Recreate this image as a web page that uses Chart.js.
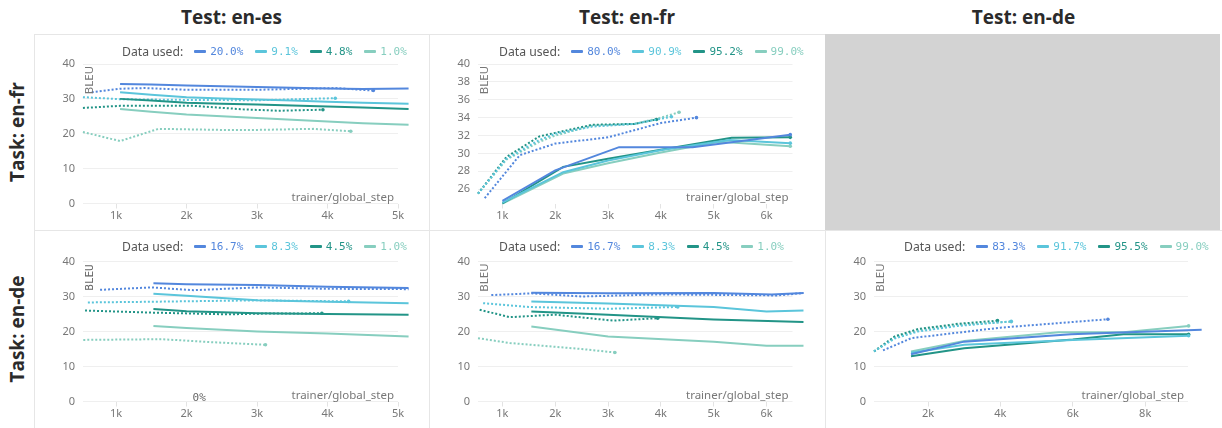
<!DOCTYPE html>
<html>
<head>
<meta charset="utf-8">
<script src="https://cdn.jsdelivr.net/npm/chart.js@4.4.1/dist/chart.umd.min.js"></script>
<style>
  body { margin: 0; width: 1222px; height: 428px; position: relative; background: #fff; overflow: hidden; font-family: "Open Sans", sans-serif; }
  .col-title { position: absolute; top: 3px; width: 300px; text-align: center; font-weight: 700; font-size: 19px; line-height: 28px; color: #2b2b2b; }
  .row-title { position: absolute; width: 200px; height: 28px; line-height: 28px; text-align: center; font-weight: 700; font-size: 19px; color: #2b2b2b; transform: rotate(-90deg); }
  .panel { position: absolute; }
  .legend { position: absolute; display: flex; align-items: center; white-space: nowrap; font-family: "Noto Sans", sans-serif; font-size: 12.2px; color: #555; }
  .legend .mk { display: inline-block; width: 12px; height: 3px; border-radius: 1px; margin-left: 11px; }
  .legend .lb { font-family: "DejaVu Sans Mono", monospace; font-size: 11px; margin-left: 4px; }
  .rule { position: absolute; background: #e6e6e6; }
  .empty { position: absolute; background: #d3d3d3; }
</style>
</head>
<body>
<script>
// colours shared by every panel (same order as the legends)
const colors = ['#5387dd', '#5bc5db', '#229487', '#87cebf'];

// Task en-fr / Test en-es
const frEsLegend = ['20.0%', '9.1%', '4.8%', '1.0%'];
const frEsSolidSteps = [1057, 1500, 2000, 2500, 3000, 3500, 4000, 4500, 5150];
const frEsSolid = [
  [34.3, 34.1, 33.8, 33.6, 33.4, 33.2, 33.0, 32.8, 33.0],
  [31.9, 31.2, 30.5, 30.1, 29.8, 29.5, 29.2, 28.9, 28.6],
  [30.0, 29.5, 28.9, 28.6, 28.4, 28.1, 27.8, 27.5, 27.1],
  [27.1, 26.3, 25.5, 25.0, 24.5, 24.0, 23.5, 23.0, 22.6]
];
const frEsDotSteps = [
  [655, 1057, 1400, 2000, 3000, 4100, 4650],
  [530, 1057, 2000, 3000, 4110],
  [530, 1057, 2100, 2800, 3300, 3935],
  [530, 1057, 1600, 2500, 3000, 3800, 4330]
];
const frEsDot = [
  [31.9, 32.9, 33.1, 32.6, 32.6, 33.1, 32.4],
  [30.5, 29.9, 29.7, 29.6, 30.2],
  [27.4, 28.0, 28.0, 27.0, 26.6, 26.9],
  [20.5, 17.9, 21.4, 21.1, 21.1, 21.4, 20.7]
];

// Task en-fr / Test en-fr
const frFrLegend = ['80.0%', '90.9%', '95.2%', '99.0%'];
const frFrSolidSteps = [
  [1000, 2000, 3208, 4600, 6450],
  [1000, 2150, 3000, 4040, 5300, 6450],
  [1000, 2150, 3000, 4000, 5340, 6450],
  [1000, 2150, 3000, 4000, 5100, 6450]
];
const frFrSolid = [
  [24.7, 28.1, 30.7, 30.7, 32.1],
  [24.5, 27.9, 29.2, 30.4, 31.5, 31.15],
  [24.4, 28.5, 29.4, 30.4, 31.75, 31.8],
  [24.4, 27.75, 28.9, 30.1, 31.3, 30.8]
];
const frFrDotSteps = [
  [665, 1328, 2000, 3000, 4000, 4674],
  [538, 1075, 1700, 2000, 2700, 3500, 4200],
  [538, 1075, 1700, 2000, 2700, 3500, 3917],
  [538, 1075, 1700, 2000, 2700, 3500, 4000, 4345]
];
const frFrDot = [
  [25.0, 29.8, 31.1, 31.8, 33.4, 34.0],
  [25.5, 29.4, 31.5, 32.2, 33.0, 33.3, 34.1],
  [25.5, 29.6, 31.9, 32.3, 33.2, 33.3, 33.8],
  [25.5, 29.3, 31.3, 32.0, 33.1, 33.3, 34.0, 34.6]
];

// Task en-de / Test en-es
const deEsLegend = ['16.7%', '8.3%', '4.5%', '1.0%'];
const deEsSolidSteps = [1530, 2000, 3000, 4000, 5150];
const deEsSolid = [
  [33.8, 33.5, 33.3, 32.8, 32.4],
  [30.8, 30.2, 28.9, 28.5, 28.1],
  [26.4, 25.8, 25.2, 25.0, 24.8],
  [21.6, 21.0, 20.0, 19.4, 18.6]
];
const deEsDotSteps = [
  [773, 1500, 2100, 3000, 4000, 5150],
  [600, 1500, 3000, 4300],
  [560, 1500, 2600, 3000, 3920],
  [535, 1650, 2400, 3120]
];
const deEsDot = [
  [31.9, 32.6, 31.8, 32.6, 32.2, 32.1],
  [28.3, 28.5, 28.9, 28.6],
  [26.0, 25.4, 24.9, 25.1, 25.2],
  [17.6, 17.8, 16.9, 16.2]
];

// Task en-de / Test en-fr
const deFrLegend = ['16.7%', '8.3%', '4.5%', '1.0%'];
const deFrSolidSteps = [
  [1548, 3000, 5000, 6100, 6700],
  [1548, 3000, 5000, 6000, 6700],
  [1548, 3000, 5000, 6700],
  [1548, 3000, 5000, 6000, 6700]
];
const deFrSolid = [
  [31.1, 30.9, 31.0, 30.6, 31.0],
  [28.6, 28.0, 27.0, 25.7, 26.0],
  [25.7, 24.8, 23.4, 22.7],
  [21.4, 18.6, 17.1, 15.9, 15.9]
];
const deFrDotSteps = [
  [790, 1548, 2500, 4000, 6200, 6700],
  [635, 1500, 3000, 4320],
  [570, 1140, 2000, 3100, 3940],
  [538, 1140, 2500, 3130]
];
const deFrDot = [
  [30.4, 30.9, 30.0, 30.6, 30.3, 31.0],
  [28.1, 27.0, 26.5, 27.0],
  [26.2, 24.1, 24.8, 23.1, 23.8],
  [18.1, 16.7, 15.0, 14.0]
];

// Task en-de / Test en-de
const deDeLegend = ['83.3%', '91.7%', '95.5%', '99.0%'];
const deDeSolidSteps = [
  [1530, 3000, 5950, 9560],
  [1530, 3000, 6000, 9200],
  [1530, 3000, 6000, 7400, 9200],
  [1530, 3000, 5600, 7400, 9200]
];
const deDeSolid = [
  [13.5, 17.1, 19.2, 20.5],
  [13.9, 16.2, 17.6, 18.8],
  [12.9, 15.2, 17.7, 19.2, 19.2],
  [14.3, 17.3, 19.8, 19.8, 21.6]
];
const deDeDotSteps = [
  [757, 1540, 4000, 6970],
  [508, 1080, 1720, 2830, 4300],
  [508, 1080, 1720, 2830, 3920],
  [508, 1080, 1720, 2830, 4300]
];
const deDeDot = [
  [14.6, 18.1, 21.1, 23.5],
  [14.3, 18.0, 20.0, 21.6, 22.9],
  [14.3, 18.6, 20.7, 22.2, 23.1],
  [14.3, 18.3, 20.3, 21.9, 22.8]
];

// tick labels
const bleuTicks = [0, 10, 20, 30, 40];
const bleuTicksZoom = [26, 28, 30, 32, 34, 36, 38, 40];
const stepTicks5k = [1000, 2000, 3000, 4000, 5000];
const stepTicks6k = [1000, 2000, 3000, 4000, 5000, 6000];
const stepTicks8k = [2000, 4000, 6000, 8000];

const colTitles = ['Test: en-es', 'Test: en-fr', 'Test: en-de'];
const rowTitles = ['Task: en-fr', 'Task: en-de'];

// ---- layout ----
const colX = [34, 429, 825, 1222];
const rowY = [34, 230, 428];

colTitles.forEach((t, i) => {
  const d = document.createElement('div');
  d.className = 'col-title';
  d.textContent = t;
  d.style.left = ((colX[i] + colX[i + 1]) / 2 - 150) + 'px';
  document.body.appendChild(d);
});
rowTitles.forEach((t, i) => {
  const d = document.createElement('div');
  d.className = 'row-title';
  d.textContent = t;
  d.style.left = (17 - 100) + 'px';
  d.style.top = ((rowY[i] + rowY[i + 1]) / 2 - 14) + 'px';
  document.body.appendChild(d);
});

const empty = document.createElement('div');
empty.className = 'empty';
Object.assign(empty.style, { left: '825px', top: '34px', width: '395px', height: '196px' });
document.body.appendChild(empty);

const inlineText = {
  id: 'inlineText',
  afterDraw(chart, args, opts) {
    const { ctx, chartArea: a } = chart;
    ctx.save();
    ctx.fillStyle = '#777';
    ctx.font = '11.5px "Noto Sans"';
    ctx.textAlign = 'right';
    ctx.textBaseline = 'middle';
    ctx.fillText('trainer/global_step', a.right - 4, a.bottom - 6);
    if (opts.note) {
      ctx.fillStyle = '#666';
      ctx.font = '11px "DejaVu Sans Mono"';
      ctx.textAlign = 'center';
      ctx.fillText(opts.note, chart.scales.x.getPixelForValue(opts.noteAt), a.bottom - 3);
    }
    ctx.translate(a.left + 7, a.top + 16);
    ctx.rotate(-Math.PI / 2);
    ctx.textAlign = 'center';
    ctx.fillText('BLEU', 0, 0);
    ctx.restore();
  }
};

function series(steps, vals, color, dotted) {
  return {
    data: steps.map((s, i) => ({ x: s, y: vals[i] })),
    borderColor: color,
    backgroundColor: color,
    borderWidth: 2,
    borderDash: dotted ? [2, 2] : [],
    pointRadius: c => (c.dataIndex === steps.length - 1 ? 1.8 : 0),
    pointBorderWidth: 0,
    tension: 0,
    fill: false,
    clip: false
  };
}

function panel(o) {
  const left = colX[o.col], top = rowY[o.row];
  const w = colX[o.col + 1] - left, h = rowY[o.row + 1] - top;
  const box = document.createElement('div');
  box.className = 'panel';
  Object.assign(box.style, { left: left + 'px', top: top + 'px', width: w + 'px', height: h + 'px' });
  const cv = document.createElement('canvas');
  cv.width = w; cv.height = h;
  box.appendChild(cv);

  const lg = document.createElement('div');
  lg.className = 'legend';
  lg.style.left = o.legendX + 'px';
  lg.style.top = (o.row === 0 ? 9 : 8) + 'px';
  lg.innerHTML = '<span>Data used:</span>' + o.legend.map((t, i) =>
    '<span class="mk" style="background:' + colors[i] + (i ? ';margin-left:12px' : '') + '"></span>' +
    '<span class="lb" style="color:' + colors[i] + '">' + t + '</span>').join('');
  box.appendChild(lg);
  document.body.appendChild(box);

  const datasets = [];
  for (let i = 0; i < 4; i++) {
    const ss = Array.isArray(o.solidSteps[0]) ? o.solidSteps[i] : o.solidSteps;
    datasets.push(series(ss, o.solid[i], colors[i], false));
  }
  for (let i = 0; i < 4; i++) {
    datasets.push(series(o.dotSteps[i], o.dot[i], colors[i], true));
  }

  new Chart(cv, {
    type: 'line',
    data: { datasets },
    plugins: [inlineText],
    options: {
      responsive: false,
      animation: false,
      devicePixelRatio: 1,
      layout: { padding: { left: 0, right: w - 49 - o.plotW, top: o.row === 0 ? 30 : 31.5, bottom: 0 } },
      plugins: {
        legend: { display: false },
        tooltip: { enabled: false },
        inlineText: { note: o.note, noteAt: o.noteAt }
      },
      scales: {
        x: {
          type: 'linear',
          min: o.xMin,
          max: o.xMax,
          afterBuildTicks: s => { s.ticks = o.xTicks.map(v => ({ value: v })); },
          afterFit: s => { s.height = 26.5; },
          ticks: {
            callback: v => v / 1000 + 'k',
            color: '#777',
            font: { family: 'Noto Sans', size: 11 },
            padding: 1,
            maxRotation: 0
          },
          grid: { drawOnChartArea: false, tickLength: 5, color: '#e3e3e3' },
          border: { display: false }
        },
        y: {
          min: o.yMin,
          max: 40,
          afterBuildTicks: s => { s.ticks = o.yTicks.map(v => ({ value: v })); },
          afterFit: s => { s.width = 49; },
          ticks: {
            color: '#777',
            font: { family: 'Noto Sans', size: 11 },
            padding: 8
          },
          grid: { color: '#efefef', drawTicks: false },
          border: { display: false }
        }
      }
    }
  });
}

panel({ row: 0, col: 0, legend: frEsLegend, legendX: 88, solidSteps: frEsSolidSteps, solid: frEsSolid,
  dotSteps: frEsDotSteps, dot: frEsDot, xMin: 531, xMax: 5000, xTicks: stepTicks5k, yMin: 0, yTicks: bleuTicks, plotW: 315 });
panel({ row: 0, col: 1, legend: frFrLegend, legendX: 70, solidSteps: frFrSolidSteps, solid: frFrSolid,
  dotSteps: frFrDotSteps, dot: frFrDot, xMin: 538, xMax: 6492, xTicks: stepTicks6k, yMin: 24.4, yTicks: bleuTicksZoom, plotW: 314.5 });
panel({ row: 1, col: 0, legend: deEsLegend, legendX: 88, solidSteps: deEsSolidSteps, solid: deEsSolid,
  dotSteps: deEsDotSteps, dot: deEsDot, xMin: 531, xMax: 5000, xTicks: stepTicks5k, yMin: 0, yTicks: bleuTicks, plotW: 315,
  note: '0%', noteAt: 2180 });
panel({ row: 1, col: 1, legend: deFrLegend, legendX: 70, solidSteps: deFrSolidSteps, solid: deFrSolid,
  dotSteps: deFrDotSteps, dot: deFrDot, xMin: 538, xMax: 6492, xTicks: stepTicks6k, yMin: 0, yTicks: bleuTicks, plotW: 314.5 });
panel({ row: 1, col: 2, legend: deDeLegend, legendX: 79, solidSteps: deDeSolidSteps, solid: deDeSolid,
  dotSteps: deDeDotSteps, dot: deDeDot, xMin: 508, xMax: 9183, xTicks: stepTicks8k, yMin: 0, yTicks: bleuTicks, plotW: 314 });

// panel dividers
[
  [34, 34, 791, 1], [34, 230, 1188, 1],
  [34, 34, 1, 394], [429, 34, 1, 394], [825, 230, 1, 198]
].forEach(([x, y, w, h]) => {
  const d = document.createElement('div');
  d.className = 'rule';
  Object.assign(d.style, { left: x + 'px', top: y + 'px', width: w + 'px', height: h + 'px' });
  document.body.appendChild(d);
});
</script>
</body>
</html>
